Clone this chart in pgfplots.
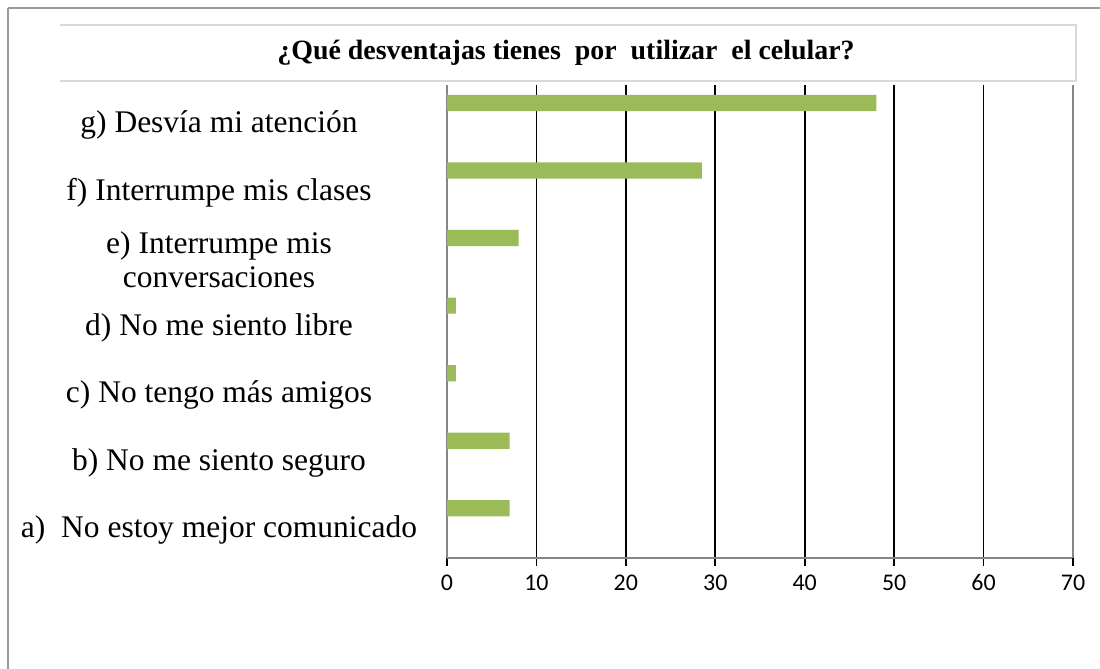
\documentclass[border=0pt]{standalone}
\usepackage{pgfplots}
\pgfplotsset{compat=1.18}
\usepackage{fontspec}
\setmainfont{Liberation Serif}
\newfontfamily\calibri{Carlito}
\definecolor{bargreen}{HTML}{9BBB59}
\definecolor{framegray}{HTML}{9A9A9A}
\definecolor{boxgray}{HTML}{D9D9D9}
\definecolor{axgray}{HTML}{868686}
\begin{document}
\begin{tikzpicture}[x=0.5bp,y=-0.5bp]
\path[use as bounding box] (0,0) rectangle (1100,669);
\draw[framegray, line width=1bp] (8,8) -- (1100,8);
\draw[framegray, line width=1bp] (8,8) -- (8,669);
\draw[boxgray, line width=0.8bp] (60,25) -- (1076,25) -- (1076,81) -- (60,81);
\node at (566,53) {\bfseries\fontsize{14}{16}\selectfont ¿Qué desventajas tienes\ \ por\ \ utilizar\ \ el celular?};
\begin{axis}[
  at={(223.5bp,-279bp)}, anchor=south west,
  scale only axis, width=313bp, height=236.5bp,
  xmin=0, xmax=70, ymin=0.5, ymax=7.5,
  axis lines*=left,
  axis line style={axgray, line width=1.2bp},
  xtick={0,10,...,60},
  extra x ticks={70},
  extra x tick style={grid style={axgray, line width=1.2bp}},
  xmajorgrids,
  grid style={black, line width=0.9bp},
  tick align=outside,
  major tick length=4bp,
  tick style={black, line width=0.8bp},
  /pgf/number format/assume math mode=true,
  xticklabel style={font=\calibri\fontsize{12}{14}\selectfont, text height=8.5bp, text depth=1bp, yshift=0bp},
  ytick={1,...,7},
  yticklabels={{a)\ \ No estoy mejor comunicado},{b) No me siento seguro},{c) No tengo más amigos},{d) No me siento libre},{e) Interrumpe mis\\conversaciones},{f) Interrumpe mis clases},{g) Desvía mi atención}},
  yticklabel style={anchor=center, xshift=-110bp, yshift=-3bp, align=center, font=\fontsize{15.8}{17}\selectfont},
  y tick style={draw=none},
  extra y ticks={0.5,1.5,...,7.5},
  extra y tick labels={},
  extra y tick style={major tick length=3.5bp, tick style={black, line width=0.8bp}},
]
\addplot[xbar, bar width=0.24, fill=bargreen, draw=none] coordinates {
(7,1.235) (7,2.235) (1,3.235) (1,4.235) (8,5.235) (28.5,6.235) (48,7.235)
};
\end{axis}
\end{tikzpicture}
\end{document}
